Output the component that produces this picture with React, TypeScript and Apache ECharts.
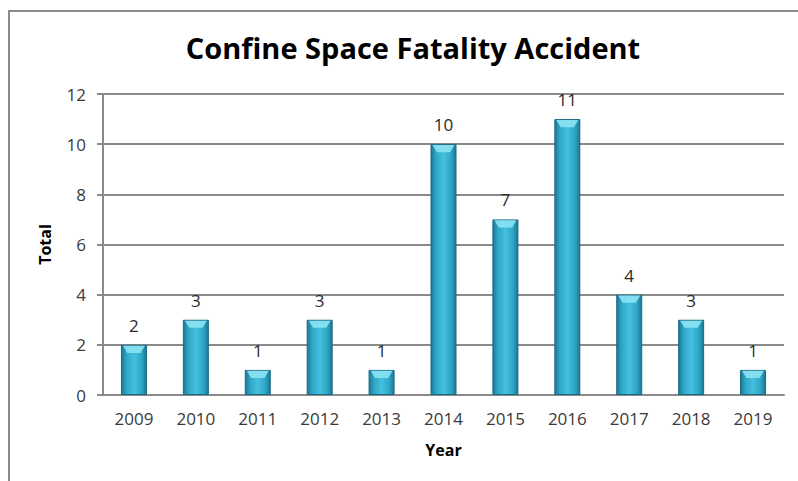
import React, { useEffect, useRef } from "react";
import * as echarts from "echarts";

const years = ["2009", "2010", "2011", "2012", "2013", "2014", "2015", "2016", "2017", "2018", "2019"];
const totals = [2, 3, 1, 3, 1, 10, 7, 11, 4, 3, 1];
const titleText = "Confine Space Fatality Accident";

export default function App() {
  const ref = useRef<HTMLDivElement>(null);
  useEffect(() => {
    document.body.style.margin = "0";
    const chart = echarts.init(ref.current!, null, { renderer: "svg" });
    const font = "'Open Sans', sans-serif";
    chart.setOption({
      animation: false,
      backgroundColor: "#ffffff",
      title: {
        text: titleText,
        left: 408,
        textAlign: "center",
        top: 28,
        textStyle: { fontFamily: font, fontSize: 29, fontWeight: "bold", color: "#000000" },
      },
      graphic: [
        {
          type: "polyline",
          shape: { points: [[9, 481], [9, 11], [798, 11]] },
          style: { stroke: "#8a8a8a", lineWidth: 2, fill: "none" },
        },
      ],
      grid: { left: 103, right: 14, top: 94, bottom: 86 },
      xAxis: {
        type: "category",
        data: years,
        name: "Year",
        nameLocation: "middle",
        nameGap: 47,
        nameTextStyle: { fontFamily: font, fontSize: 16, fontWeight: "bold", color: "#000" },
        axisLine: { lineStyle: { color: "#8a8a8a", width: 2 } },
        axisTick: { show: false },
        axisLabel: { fontFamily: font, fontSize: 17, color: "#3a3a3a", margin: 15 },
      },
      yAxis: {
        type: "value",
        min: 0,
        max: 12,
        interval: 2,
        name: "Total",
        nameLocation: "middle",
        nameGap: 50,
        nameTextStyle: { fontFamily: font, fontSize: 16, fontWeight: "bold", color: "#000" },
        axisLine: { show: true, lineStyle: { color: "#8a8a8a", width: 2 } },
        axisTick: { show: true, length: 6, lineStyle: { color: "#8a8a8a", width: 2 } },
        axisLabel: { fontFamily: font, fontSize: 17, color: "#3a3a3a", margin: 17 },
        splitLine: { lineStyle: { color: "#8a8a8a", width: 2 } },
      },
      series: [
        {
          type: "bar",
          data: totals,
          barWidth: 26,
          itemStyle: {
            color: new echarts.graphic.LinearGradient(0, 0, 1, 0, [
              { offset: 0, color: "#1b7894" },
              { offset: 0.2, color: "#2fa6c6" },
              { offset: 0.5, color: "#45c0de" },
              { offset: 0.8, color: "#2fa6c6" },
              { offset: 1, color: "#1b7894" },
            ]),
            borderColor: "#1a6a82",
            borderWidth: 1,
          },
          label: {
            show: true,
            position: "top",
            distance: 11,
            fontFamily: font,
            fontSize: 17,
            color: "#2a2a2a",
          },
        },
        {
          type: "pictorialBar",
          data: totals,
          barGap: "-100%",
          symbol: "path://M0,0 L10,0 L8,4 L2,4 Z",
          symbolSize: [22, 7],
          symbolPosition: "end",
          symbolOffset: [0, 1],
          z: 3,
          itemStyle: { color: "#8be3f3", opacity: 0.9 },
          silent: true,
        },
      ],
    });
    return () => chart.dispose();
  }, []);
  return <div ref={ref} style={{ position: "absolute", left: 0, top: 0, width: 798, height: 481 }} />;
}
